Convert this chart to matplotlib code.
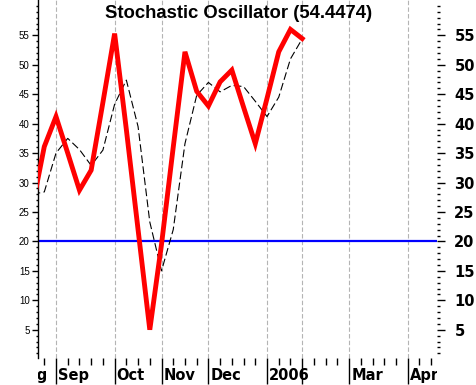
import matplotlib
matplotlib.use("Agg")
import matplotlib.pyplot as plt
import numpy as np
from matplotlib.transforms import Bbox, TransformedBbox

plt.rcParams['font.family'] = ['Liberation Sans', 'DejaVu Sans']

##### weekly index (0 = first week of Sep 2005)
weeks = np.arange(-2, 22)
##### %K (red) and %D (black dashed) values
stoch_k = [26.0, 36.1, 41.2, 35.0, 28.7, 32.1, 43.6, 55.3, 39.0, 22.0, 5.0, 19.5,
           36.0, 52.2, 45.5, 43.0, 47.1, 49.1, 42.8, 36.6, 44.3, 52.2, 56.0, 54.45]
stoch_d = [28.0, 28.4, 35.0, 37.5, 35.6, 32.9, 35.5, 43.3, 47.4, 39.5, 23.3, 15.0,
           22.0, 36.6, 44.8, 47.0, 45.4, 46.5, 46.3, 43.8, 41.2, 44.5, 51.0, 54.4]
signal_level = 20
##### month ticks
month_pos = [-3.6, 0, 5, 9, 13, 18, 21, 25, 30]
month_lab = ["Aug", "Sep", "Oct", "Nov", "Dec", "2006", "", "Mar", "Apr"]
y_ticks = [5, 10, 15, 20, 25, 30, 35, 40, 45, 50, 55]

fig = plt.figure(figsize=(4.76, 3.85), dpi=100)
ax = fig.add_axes([38 / 476, 1 - 358 / 385, 399 / 476, 358 / 385])

ax.axhline(signal_level, color='#0000ff', lw=1.6, zorder=2)
ax.plot(weeks, stoch_d, color='black', lw=0.8, ls=(0, (7, 3)), zorder=3)
ax.plot(weeks, stoch_k, color='#ff0000', lw=3.5, solid_joinstyle='miter', zorder=4)

for s in ['top', 'right', 'bottom']:
    ax.spines[s].set_visible(False)
ax.spines['left'].set_linewidth(1.0)

##### x axis: month ticks long, week ticks short
ax.set_xticks(month_pos)
ax.set_xticks(np.arange(-1, 33), minor=True)
ax.tick_params(axis='x', which='major', length=19, width=1.0, labelbottom=False, pad=0)
ax.tick_params(axis='x', which='minor', length=5, width=1.0)
ax.grid(axis='x', which='major', color='#b4b4b4', ls=(0, (4, 2)), lw=0.8)

##### left y axis: small labels
ax.set_yticks(y_ticks)
ax.set_yticks(np.arange(1, 61), minor=True)
ax.tick_params(axis='y', which='major', length=4, width=1.0, labelsize=7, pad=2)
ax.tick_params(axis='y', which='minor', length=1.8, width=1.0)

ax.set_xlim(-1.536, 32.5)
ax.set_ylim(0.2, 61)

clip = TransformedBbox(Bbox([[0, -0.2], [1, 0]]), ax.transAxes)
for p, lab in zip(month_pos, month_lab):
    t = ax.text(p + 0.18, -0.048, lab, transform=ax.get_xaxis_transform(),
                ha='left', va='center', fontsize=10.5, fontweight='bold',
                family='DejaVu Sans')
    t.set_clip_box(clip)
    t.set_clip_on(True)

##### right y axis: bold large labels
ax2 = ax.twinx()
for s in ax2.spines.values():
    s.set_visible(False)
ax2.set_yticks(y_ticks)
ax2.set_yticks(np.arange(1, 61), minor=True)
ax2.set_ylim(ax.get_ylim())
ax2.tick_params(axis='y', which='major', length=5.5, width=1.0, labelsize=10.5, pad=7)
ax2.tick_params(axis='y', which='minor', length=2.5, width=1.0)
for lab in ax2.get_yticklabels():
    lab.set_fontweight('bold')
    lab.set_family('DejaVu Sans')

ax.text(0.5025, 0.963, "Stochastic Oscillator (54.4474)", transform=ax.transAxes,
        ha='center', va='center', fontsize=13.3, fontweight='bold')

fig.savefig("out.png", dpi=100)
